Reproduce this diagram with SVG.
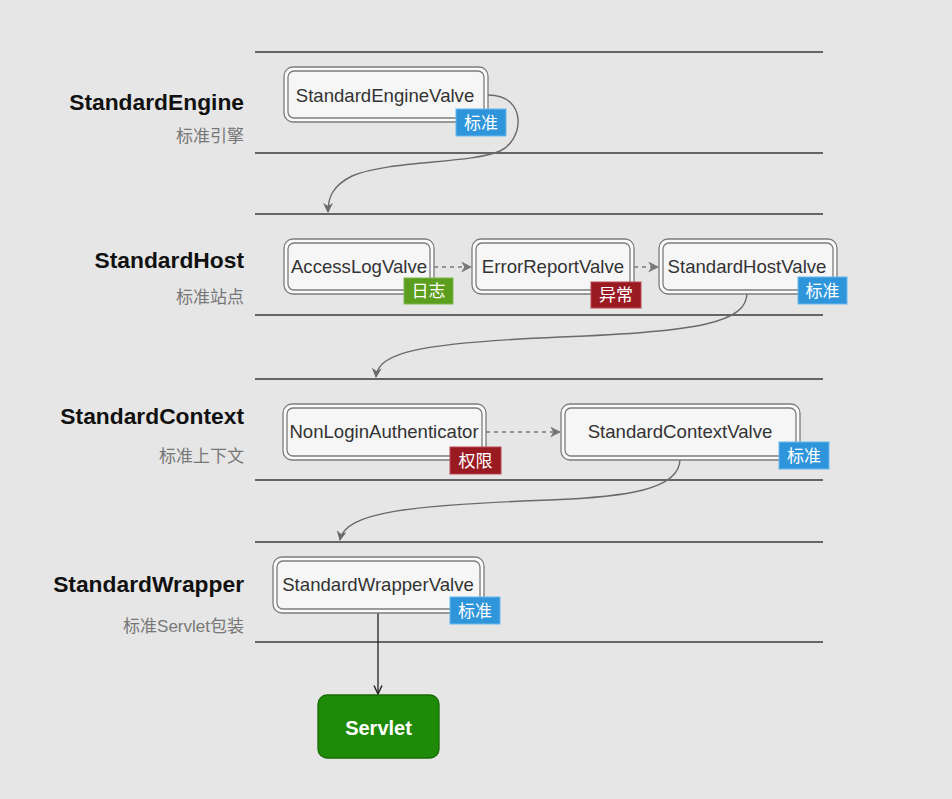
<svg xmlns="http://www.w3.org/2000/svg" width="952" height="799" viewBox="0 0 952 799">
<defs>
<style>
.bg{fill:#e6e6e6}
.lane{stroke:#3a3a3a;stroke-width:1.4}
.title{font-family:"Liberation Sans",Arial,sans-serif;font-weight:bold;font-size:22.8px;fill:#111;text-anchor:end}
.sub{font-family:"Liberation Sans","Noto Sans CJK SC",sans-serif;font-size:17px;fill:#777;text-anchor:end}
.outer{fill:#fafafa;stroke:#7c7c7c;stroke-width:1.3}
.inner{fill:#f6f6f6;stroke:#7c7c7c;stroke-width:1.3}
.lbl{font-family:"Liberation Sans",Arial,sans-serif;font-size:18.6px;fill:#333;text-anchor:middle}
.badge{font-family:"Noto Sans CJK SC",sans-serif;font-size:17px;fill:#fff;text-anchor:middle}
.blue{fill:#2e95db;stroke:#6ab8ec;stroke-width:1}
.green{fill:#5b9d1c;stroke:#7cb84a;stroke-width:1}
.red{fill:#9a1a22;stroke:#b84a50;stroke-width:1}
.curve{fill:none;stroke:#6a6a6a;stroke-width:1.4}
.dash{fill:none;stroke:#7a7a7a;stroke-width:1.3;stroke-dasharray:4 4}
</style>
<marker id="ah" viewBox="0 0 10 10" refX="9" refY="5" markerWidth="10" markerHeight="10" markerUnits="userSpaceOnUse" orient="auto">
<path d="M0,0 L10,5 L0,10 L3,5 z" fill="#6a6a6a"/>
</marker>
<marker id="ahd" viewBox="0 0 10 10" refX="9" refY="5" markerWidth="11" markerHeight="11" markerUnits="userSpaceOnUse" orient="auto">
<path d="M0,0 L10,5 L0,10 L3,5 z" fill="#777"/>
</marker>
<marker id="ahb" viewBox="0 0 10 10" refX="9.5" refY="5" markerWidth="10" markerHeight="10" markerUnits="userSpaceOnUse" orient="auto">
<path d="M1,1 L9.5,5 L1,9" fill="none" stroke="#222" stroke-width="1.4"/>
</marker>
</defs>
<rect class="bg" x="0" y="0" width="952" height="799"/>

<g id="lanes">
<line class="lane" x1="255" y1="52" x2="823" y2="52"/>
<line class="lane" x1="255" y1="153" x2="823" y2="153"/>
<line class="lane" x1="255" y1="214" x2="823" y2="214"/>
<line class="lane" x1="255" y1="315" x2="823" y2="315"/>
<line class="lane" x1="255" y1="379" x2="823" y2="379"/>
<line class="lane" x1="255" y1="480" x2="823" y2="480"/>
<line class="lane" x1="255" y1="542" x2="823" y2="542"/>
<line class="lane" x1="255" y1="642" x2="823" y2="642"/>
</g>

<g id="lane-labels">
<text class="title" x="244" y="110">StandardEngine</text>
<text class="sub" x="244" y="142">标准引擎</text>
<text class="title" x="244" y="268">StandardHost</text>
<text class="sub" x="244" y="303">标准站点</text>
<text class="title" x="244" y="424">StandardContext</text>
<text class="sub" x="244" y="462">标准上下文</text>
<text class="title" x="244" y="592">StandardWrapper</text>
<text class="sub" x="244" y="632">标准Servlet包装</text>
</g>

<g id="connectors">
<path class="curve" d="M488,95 C528,95 524,140 500,151 C470,164 390,160 352,176 C332,186 328,198 328,212" marker-end="url(#ah)"/>
<path class="dash" d="M434,267 L471,267" marker-end="url(#ahd)"/>
<path class="dash" d="M634,267 L658,267" marker-end="url(#ahd)"/>
<path class="curve" d="M747,293 C747,322 700,332 560,337 C420,343 378,352 376,377" marker-end="url(#ah)"/>
<path class="dash" d="M486,432 L560,432" marker-end="url(#ahd)"/>
<path class="curve" d="M680,459 C680,490 625,497 550,500 C410,505 345,512 340,540" marker-end="url(#ah)"/>
<path d="M378,613 L378,694" fill="none" stroke="#222" stroke-width="1.3" marker-end="url(#ahb)"/>
</g>

<g id="StandardEngineValve">
<rect class="outer" x="284" y="67" width="204" height="55" rx="9"/>
<rect class="inner" x="288" y="71" width="196" height="47" rx="6"/>
<text class="lbl" x="385" y="102">StandardEngineValve</text>
<rect class="blue" x="456" y="109" width="50" height="27"/>
<text class="badge" x="481" y="129">标准</text>
</g>

<g id="AccessLogValve">
<rect class="outer" x="284" y="239" width="150" height="55" rx="9"/>
<rect class="inner" x="288" y="243" width="142" height="47" rx="6"/>
<text class="lbl" x="359" y="273">AccessLogValve</text>
<rect class="green" x="404" y="278" width="49" height="26"/>
<text class="badge" x="428.5" y="297">日志</text>
</g>

<g id="ErrorReportValve">
<rect class="outer" x="472" y="239" width="162" height="55" rx="9"/>
<rect class="inner" x="476" y="243" width="154" height="47" rx="6"/>
<text class="lbl" x="553" y="273">ErrorReportValve</text>
<rect class="red" x="591" y="282" width="50" height="26"/>
<text class="badge" x="616" y="301">异常</text>
</g>

<g id="StandardHostValve">
<rect class="outer" x="659" y="239" width="178" height="55" rx="9"/>
<rect class="inner" x="663" y="243" width="170" height="47" rx="6"/>
<text class="lbl" x="747" y="273">StandardHostValve</text>
<rect class="blue" x="798" y="277" width="49" height="27"/>
<text class="badge" x="822.5" y="297">标准</text>
</g>

<g id="NonLoginAuthenticator">
<rect class="outer" x="283" y="404" width="203" height="56" rx="9"/>
<rect class="inner" x="287" y="408" width="195" height="48" rx="6"/>
<text class="lbl" x="384" y="438">NonLoginAuthenticator</text>
<rect class="red" x="450" y="447" width="51" height="27"/>
<text class="badge" x="475.5" y="467">权限</text>
</g>

<g id="StandardContextValve">
<rect class="outer" x="561" y="404" width="239" height="56" rx="9"/>
<rect class="inner" x="565" y="408" width="231" height="48" rx="6"/>
<text class="lbl" x="680" y="438">StandardContextValve</text>
<rect class="blue" x="779" y="442" width="50" height="27"/>
<text class="badge" x="804" y="462">标准</text>
</g>

<g id="StandardWrapperValve">
<rect class="outer" x="273" y="557" width="211" height="56" rx="9"/>
<rect class="inner" x="277" y="561" width="203" height="48" rx="6"/>
<text class="lbl" x="378" y="591">StandardWrapperValve</text>
<rect class="blue" x="450" y="597" width="50" height="27"/>
<text class="badge" x="475" y="617">标准</text>
</g>

<g id="Servlet">
<rect x="318" y="695" width="121" height="63" rx="9" fill="#1f8a08" stroke="#176b05" stroke-width="1.3"/>
<text x="378.5" y="735" font-family="'Liberation Sans',Arial,sans-serif" font-size="20px" font-weight="bold" fill="#fff" text-anchor="middle">Servlet</text>
</g>
</svg>
